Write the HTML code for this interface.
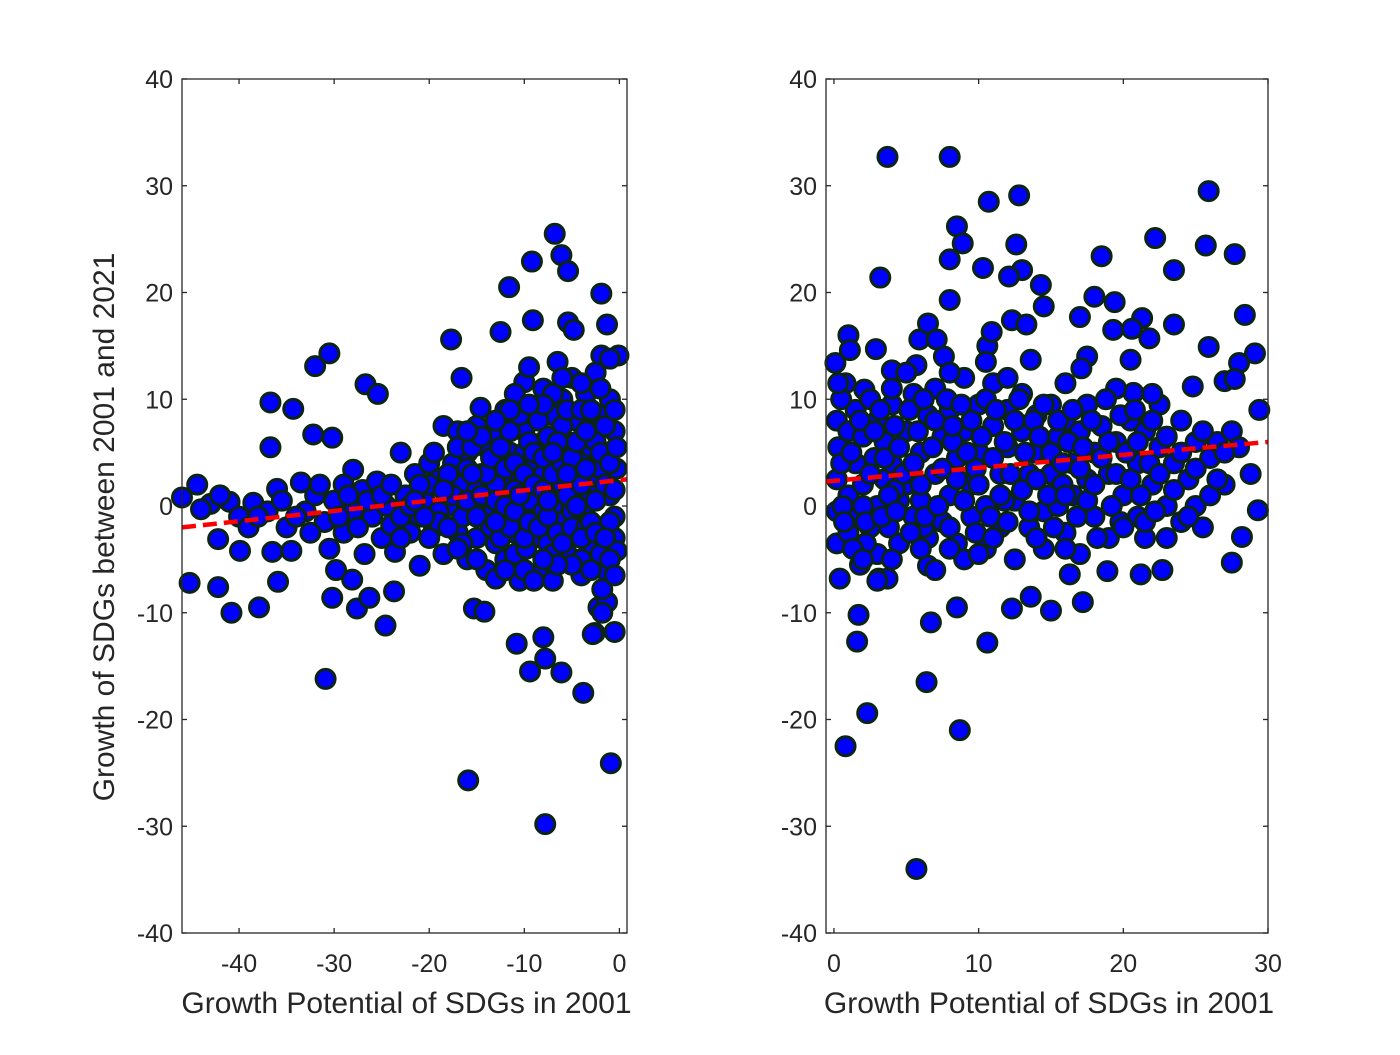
<!DOCTYPE html>
<html><head><meta charset="utf-8"><style>
body{margin:0;background:#fff;}
svg text{font-family:"Liberation Sans",Arial,sans-serif;fill:#262626;}
</style></head><body>
<svg id="chart" width="1400" height="1050" xmlns="http://www.w3.org/2000/svg">
<rect width="1400" height="1050" fill="#fff"/>
<g id="left"></g>
<g id="right"></g>
</svg>
<script>
const yTicks=[-40,-30,-20,-10,0,10,20,30,40];
const leftXTicks=[-40,-30,-20,-10,0];
const rightXTicks=[0,10,20,30];
const leftTrend=[[-46,-2],[0.8,2.5]];
const rightTrend=[[-0.55,2.3],[30,6]];
const leftPoints=[
[-46,0.8],[-44.4,2],[-45.2,-7.2],[-42.2,-7.6],[-40.8,-10],[-42.2,-3.1],[-39.9,-4.2],[-37.9,-9.5],[-36.7,9.7],[-36.7,5.5],[-35.9,-7.1],[-34.3,9.1],[-32,13.1],[-30.5,14.3],[-32.2,6.7],[-30.2,6.4],[-30.9,-16.2],[-30.2,-8.6],[-29.8,-6],[-28,3.4],[-27.6,-9.6],[-28.1,-6.9],[-26.3,-8.6],[-26.7,11.4],[-25.4,10.5],[-24.6,-11.2],[-23.7,-8],[-23.6,-4.3],[-17.7,15.6],[-16.6,12],[-15.9,-25.7],[-15.3,-9.6],[-14.2,-9.9],[-12.5,16.3],[-11.6,20.5],[-10.8,-12.9],[-9.4,-15.5],[-9.2,22.9],[-7.8,-29.8],[-8,-12.3],[-7.8,-14.3],[-6.8,25.5],[-6.1,23.5],[-5.4,22],[-6.1,-15.6],[-3.8,-17.5],[-1.9,19.9],[-1.3,17],[-0.9,-24.1],[-0.5,-11.8],[-2.6,-11.9],[-9.1,17.4],[-5.4,17.2],[-4.8,16.5],[-0.1,14.1],[-1.9,14.1],[-10,11.6],[-2.9,11.7],[-14.6,9.2],[-12.5,7.6],
[-43,0.2],[-41,0.4],[-40,-1],[-38.5,0.3],[-37,-0.5],[-36.5,-4.3],[-36,1.6],[-35,-2],[-34.5,-4.2],[-33.5,2.2],[-33,-0.5],[-32,1],[-31,-1.5],[-30.5,-4],[-30,0.5],[-29,2],[-29,-2.5],[-28,-0.5],[-27,1.5],[-26.8,-4.5],[-26,-1],[-25.5,2.3],[-25,-3],[-24.5,0],[-24,-1.8],[-23,5],[-22.5,1],[-22,-2.5],[-21.5,3],[-21,-5.6],[-20.5,0.5],[-20,4],[-19.5,-2],[-19,2.5],[-18.5,7.5],[-18.5,-4.5],[-18,0],[-17.5,4],[-17,-2.5],[-17,7],[-16.5,2],[-16,-5],[-16,5],[-15.5,0],[-15,7.5],[-15,-3],[-14.5,3],[-14,-6],[-14,5.5],[-13.5,0],[-13,-3.5],[-13,6.5],[-12.5,2.5],[-12,-5],[-12,9],[-11.5,0],[-11.5,5],[-11,-2.5],[-11,10.5],[-10.5,3],[-10.5,-7],[-10,7],[-10,-1],[-9.5,13],[-9.5,4],[-9,-3],[-9,9],[-8.5,0.5],[-8.5,-6.5],[-8,6],[-8,11],[-7.5,2],[-7.5,-3.5],[-7,8.5],[-7,-7],[-6.5,4],[-6.5,13.5],[-6,-1],[-6,10],[-5.5,6],[-5.5,-4.5],[-5,1.5],[-5,12],[-4.5,8],[-4.5,-2],[-4,4.5],[-4,-6.5],[-3.5,10.5],[-3.5,0],[-3,7],[-3,-4],[-2.5,3],[-2.5,12.5],[-2,-2],[-2,8.5],[-1.5,5],[-1.5,-6],[-1,1],[-1,10],[-0.5,7],[-0.5,-3],[-0.3,3.5],[-0.3,-4.2],[-0.5,-1],[-1,13.8],[-2.2,-9.5],[-1.3,-9],[-1.8,-7.8],[-4,-5],[-7,-4.5],[-9,-2],[-12,-1],[-13,2],[-15,1.5],[-11,1.5],[-6,2],[-3,1],[-8,3],[-10,5],[-5,-0.5],[-3,5.5],[-7,0],[-9.5,0.5],[-14,-1],[-16.5,-1],[-19,-0.5],[-21,-1],[-23,-1],[-20,2],[-2,3.5],[-6,7.5],[-8,-0.5],[-4.5,3],[-11,-4.5],[-13,-6.8],[-9.8,-4],[-2.8,-12]
];
const leftExtra=[
[-44,-0.3],[-42,1],[-39,-2],[-38,-1],[-35.5,0.5],[-34,-1],[-32.5,-2.5],[-31.5,2],[-29.5,-1],[-28.5,1],[-27.5,-2],[-26.5,0.5],[-25,1],[-24,2],[-23,-3],[-22,0],[-21,2],[-20,-3],[-19.5,5],[-19,-1.5],[-18,3],[-18,-2],[-17.5,1],[-17,5.5],[-16.5,-3.5],[-16,3.5],[-16,0.5],[-15.5,5.5],[-15,-1],[-14.5,1],[-14.5,6.5],[-14,3],[-13.5,-2],[-13.5,4.5],[-13,0.5],[-12.5,-3],[-12.5,5.5],[-12,3.5],[-12,0],[-11.5,7],[-11.5,-2],[-11,4],[-11,-0.5],[-10.5,8.5],[-10.5,1],[-10,-3],[-10,3],[-9.5,6],[-9.5,-1.5],[-9,2],[-9,5],[-8.5,8],[-8.5,-2],[-8,1.5],[-8,4.5],[-7.5,6.5],[-7.5,-1],[-7,3],[-7,10.5],[-6.5,-2.5],[-6.5,6],[-6,4],[-6,-3.5],[-5.5,1],[-5.5,9],[-5,-2],[-5,4.5],[-4.5,6],[-4.5,0],[-4,2],[-4,9],[-3.5,-2],[-3.5,3.5],[-3,9],[-3,-1.5],[-2.5,6],[-2.5,0.5],[-2,5],[-2,-4.5],[-1.5,2],[-1.5,7.5],[-1,-1.5],[-1,4],[-0.5,9],[-0.5,1.5],[-0.3,5.5],[-2,11],[-4,11.5],[-6,12],[-8,9.5],[-3,-6],[-5,-5.5],[-1,-5],[-6.5,-5.5],[-8,-5],[-12,-6],[-10,-6],[-9,-7],[-15,-5],[-17,-4],[-18.5,1.5],[-20.5,-1],[-21.5,0.5],[-7,5],[-9.5,9.5],[-11.5,9],[-13,8],[-16,7],[-13,-1.5],[-15.5,3],[-3.5,7],[-5.5,3],[-7.5,0.5],[-4,-3],[-2.5,-2.5],[-1.5,-3],[-0.5,-6.5],[-1.8,-10]
];
const rightPoints=[
[3.7,32.7],[8,32.7],[3.2,21.4],[8.5,26.2],[8.9,24.6],[8,23.1],[8,19.3],[10.7,28.5],[12.8,29.1],[12.6,24.5],[13,22.1],[12.1,21.5],[10.3,22.3],[14.3,20.7],[14.5,18.7],[18.5,23.4],[18,19.6],[19.4,19.1],[22.2,25.1],[23.5,22.1],[25.9,29.5],[25.7,24.4],[27.7,23.6],[28.4,17.9],[29.1,14.3],[25.9,14.9],[23.5,17],[21.3,17.6],[21.8,15.7],[20.6,16.6],[19.3,16.5],[17,17.7],[17.5,14],[17.1,12.9],[20.5,13.7],[20.7,10.6],[24.8,11.2],[27,11.7],[28,13.4],[27.7,11.9],[29.4,9],[28.8,3],[29.3,-0.4],[28.2,-2.9],[27.5,-5.3],[25.5,-2],[22.7,-6],[21.2,-6.4],[18.9,-6.1],[17.2,-9],[15,-9.8],[16.3,-6.4],[13.6,-8.5],[12.3,-9.6],[10.6,-12.8],[8.5,-9.5],[8.7,-21],[6.4,-16.5],[6.7,-10.9],[5.7,-34],[2.3,-19.4],[0.8,-22.5],[1.6,-12.7],[1.7,-10.2],[0.4,-6.8],[3.1,-6.8],[3.7,-6.8],[6.5,-5.6],[1,16],[0.1,13.4],[1.1,14.6],[2.9,14.7],[2.1,10.9],[4,12.7],[5.9,15.6],[6.5,17.1],[7.1,15.6],[7.6,14],[5.7,13.2],[10.6,15],[10.5,13.5],[10.9,16.3],[12.3,17.4],[13.3,17],[13.6,13.7],
[0.2,8],[0.3,5.5],[0.2,2.5],[0.2,-0.5],[0.2,-3.5],[0.8,11.5],[1,7],[1,1],[1,-2.5],[1.5,9],[1.5,4],[1.5,-1],[1.8,-5.5],[2,6.5],[2,2],[2.5,10],[2.5,-2],[2.8,4.5],[3,8],[3,0],[3,-4.5],[3.5,6],[3.5,2.5],[3.8,-2],[4,9.5],[4,4],[4.5,0.5],[4.5,-3.5],[5,7],[5,2],[5.5,10.5],[5.5,-1],[6,5],[6,0.5],[6.5,8.5],[6.5,-3],[7,3],[7,11],[7.5,6.5],[7.5,-1.5],[8,9],[8,1],[8.5,4.5],[8.5,-3.5],[9,7],[9,12],[9.5,2],[9.5,-1],[10,9.5],[10,5],[10.5,0],[10.5,-4],[11,7.5],[11,11.5],[11.5,3],[11.5,-2],[12,9],[12,5.5],[12.5,0.5],[12.5,-5],[13,7],[13,10.5],[13.5,3],[13.5,-2],[14,8.5],[14,5],[14.5,-0.5],[14.5,-4],[15,9.5],[15,3],[15.5,6.5],[15.5,0],[16,8],[16,-2.5],[16.5,4],[16.5,1],[17,7],[17,-4.5],[17.5,9.5],[17.5,2.5],[18,5],[18,-1],[18.5,7.5],[19,3],[19,-3],[19.5,11],[19.5,6],[20,1],[20.5,8],[21,4],[21,-1],[21.5,7],[22,2],[22.5,9.5],[22.5,5.5],[23,0],[23.5,4],[24,8],[24,-1.5],[24.5,2.5],[25,6],[25,0],[26,4.5],[26,1],[26.5,6],[27,2],[27.5,7],[28,5.5],[21.5,-3],[19.8,-1.5],[0.5,4],[2.2,-3.5],[4.2,1.5],[6.2,-2],[8.2,6],[9.8,3.5],[11.8,0.5],[13.8,5],[15.8,2],[5,12.5],[7,-6],[9,-5],[3,-7]
];
const rightExtra=[
[0.5,10],[0.6,0],[0.7,-1.5],[1.2,5],[1.3,-4],[1.8,8],[2,0],[2.2,-1.5],[2.5,3],[2.8,7],[3.2,9],[3.3,-1],[3.5,4.5],[3.8,1],[4.2,7.5],[4.3,-0.5],[4.5,5.5],[4.8,3],[5.2,9],[5.3,-2.5],[5.5,4],[5.8,7],[6,2],[6.2,10],[6.3,-1],[6.8,5.5],[7,8],[7.2,0],[7.5,3.5],[7.8,10],[8,-2],[8.2,7.5],[8.5,2.5],[8.8,9.5],[9,0.5],[9.2,5],[9.5,8],[9.8,-2.5],[10,2],[10.2,6.5],[10.5,10],[10.8,-1],[11,4.5],[11.2,9],[11.5,1],[11.8,6],[12,-1.5],[12.2,3],[12.5,8],[12.8,10],[13,1.5],[13.2,5],[13.5,-0.5],[13.8,8],[14,2.5],[14.2,6.5],[14.5,9.5],[14.8,1],[15,5],[15.2,-2],[15.5,8],[15.8,4],[16,1],[16.2,6],[16.5,9],[16.8,-1],[17,3.5],[17.2,5.5],[17.5,0.5],[17.8,8],[18,2],[18.2,-3],[18.5,4.5],[18.8,10],[19,6],[19.2,0],[19.5,3],[19.8,8.5],[20,-2],[20.2,5],[20.5,2.5],[20.8,9],[21,6],[21.2,1],[21.5,-1.5],[21.8,4],[22,8],[22.2,-0.5],[22.5,3],[23,6.5],[23,-3],[23.5,1.5],[24,5],[24.5,-1],[25,3.5],[25.5,7],[26.5,2.5],[27,5],[22,10.5],[16,11.5],[12,12],[8,12.5],[4,11],[10,-4.5],[14,-3],[6,-4],[2,-5],[0.3,11.5],[11,-3],[16,-4],[4,-5],[8,-4]
];

const NS="http://www.w3.org/2000/svg";
function mk(parent,tag,attrs){const e=document.createElementNS(NS,tag);for(const k in attrs)e.setAttribute(k,attrs[k]);parent.appendChild(e);return e;}

function panel(gid,x0,x1,xmin,xmax,xTicks,points,trend,side){
  const g=document.getElementById(gid);
  const y0=79,y1=933,ymin=-40,ymax=40;
  const sx=v=>x0+(v-xmin)/(xmax-xmin)*(x1-x0);
  const sy=v=>y1-(v-ymin)/(ymax-ymin)*(y1-y0);
  const clip=mk(g,'clipPath',{id:'clip-'+gid});
  mk(clip,'rect',{x:x0,y:y0,width:x1-x0,height:y1-y0});
  const pts=mk(g,'g',{});
  
  
  points.forEach(p=>{
    const c=mk(pts,'circle',{cx:sx(p[0]),cy:sy(p[1]),r:9.5,fill:'#0000ff',stroke:'#0b2416','stroke-width':3});
    
    
  });
  const tl=mk(g,'line',{x1:sx(trend[0][0]),y1:sy(trend[0][1]),x2:sx(trend[1][0]),y2:sy(trend[1][1]),stroke:'#ff0000','stroke-width':4.5,'stroke-dasharray':'14,7','clip-path':'url(#clip-'+gid+')'});
  
  
  const box=mk(g,'rect',{x:x0,y:y0,width:x1-x0,height:y1-y0,fill:'none',stroke:'#262626','stroke-width':1.3});
  
  
  yTicks.forEach(t=>{
    const y=sy(t);
    mk(g,'line',{x1:x0,y1:y,x2:x0+5,y2:y,stroke:'#262626','stroke-width':1.3});
    mk(g,'line',{x1:x1,y1:y,x2:x1-5,y2:y,stroke:'#262626','stroke-width':1.3});
    const tx=mk(g,'text',{x:x0-9,y:y+9,'font-size':25,'text-anchor':'end'});
    tx.textContent=t;
    
    
  });
  xTicks.forEach(t=>{
    const x=sx(t);
    mk(g,'line',{x1:x,y1:y1,x2:x,y2:y1-5,stroke:'#262626','stroke-width':1.3});
    mk(g,'line',{x1:x,y1:y0,x2:x,y2:y0+5,stroke:'#262626','stroke-width':1.3});
    const tx=mk(g,'text',{x:x,y:y1+39,'font-size':25,'text-anchor':'middle'});
    tx.textContent=t;
    
    
  });
  const xl=mk(g,'text',{x:(x0+x1)/2+2,y:1013,'font-size':30,'text-anchor':'middle'});
  xl.textContent='Growth Potential of SDGs in 2001';
  
  
}
panel('left',182,627,-46,0.8,leftXTicks,leftPoints.concat(leftExtra),leftTrend,'left');
panel('right',826,1268,-0.55,30,rightXTicks,rightPoints.concat(rightExtra),rightTrend,'right');
const yl=mk(document.getElementById('left'),'text',{x:0,y:0,'font-size':30,'text-anchor':'middle',transform:'translate(114,527) rotate(-90)'});
yl.textContent='Growth of SDGs between 2001 and 2021';


</script>
</body></html>
